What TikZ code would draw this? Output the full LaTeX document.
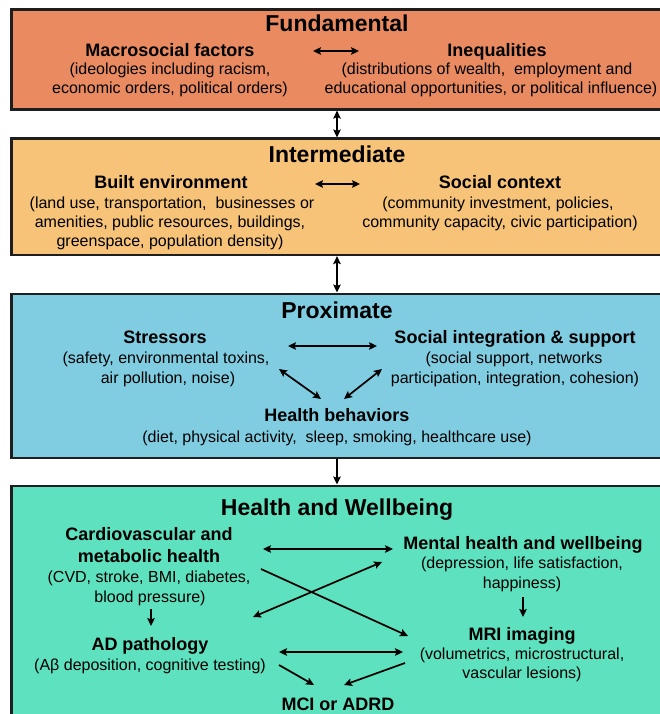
\documentclass[tikz,border=0pt]{standalone}
\usepackage{fontspec}
\setmainfont{Liberation Sans}
\usetikzlibrary{arrows.meta}
\definecolor{cfund}{RGB}{233,138,97}
\definecolor{cint}{RGB}{246,195,121}
\definecolor{cprox}{RGB}{128,205,226}
\definecolor{chealth}{RGB}{94,225,190}
\definecolor{cline}{RGB}{30,30,30}
\tikzset{
  box/.style={draw=cline, line width=2.6pt, rectangle, inner sep=0pt, anchor=north west},
  ttl/.style={anchor=base, inner sep=0pt, font=\fontsize{23}{27}\selectfont\bfseries},
  hd/.style={anchor=base, inner sep=0pt, font=\fontsize{18}{21}\selectfont\bfseries},
  ds/.style={anchor=base, inner sep=0pt, font=\fontsize{16}{19}\selectfont},
  arr/.style={draw=black, line width=1.7pt, -{Stealth[length=8pt,width=7.5pt,inset=1.5pt]}},
  arrb/.style={draw=black, line width=1.7pt, {Stealth[length=8pt,width=7.5pt,inset=1.5pt]}-{Stealth[length=8pt,width=7.5pt,inset=1.5pt]}},
}
\begin{document}
\begin{tikzpicture}[x=1pt,y=-1pt]
\useasboundingbox (0,0) rectangle (659,714);
\fill[white] (0,0) rectangle (659,714);
% boxes
\node[box, fill=cfund, minimum width=656pt, minimum height=100pt] (b1) at (10,8) {};
\node[box, fill=cint, minimum width=656pt, minimum height=116pt] (b2) at (10,137.5) {};
\node[box, fill=cprox, minimum width=656pt, minimum height=164pt] (b3) at (10,292.5) {};
\node[box, fill=chealth, minimum width=656pt, minimum height=240pt] (b4) at (10,484.5) {};
\coordinate (ax) at (337,0);
\draw[arrb] (b1.south -| ax) -- (b2.north -| ax);
\draw[arrb] (b2.south -| ax) -- (b3.north -| ax);
\draw[arr] (b3.south -| ax) -- (b4.north -| ax);

% Fundamental
\node[ttl] (t1) at (337,32) {Fundamental};
\node[hd] (macro) at (170,57) {Macrosocial factors};
\node[ds] (macro1) at (170,75) {(ideologies including racism,};
\node[ds] (macro2) at (170,94) {economic orders, political orders)};
\node[hd] (ineq) at (497,57) {Inequalities};
\node[ds] (ineq1) at (487,75) {(distributions of wealth,\ \ employment and};
\node[ds] (ineq2) at (491,94) {educational opportunities, or political influence)};
\coordinate (fa) at (313,51);
\coordinate (fb) at (359,51);
\draw[arrb, line width=1.5pt] (fa) -- (fb);

% Intermediate
\node[ttl] (t2) at (337,163) {Intermediate};
\node[hd] (built) at (171,188) {Built environment};
\node[ds] (built1) at (172,208) {(land use, transportation,\ \ businesses or};
\node[ds] (built2) at (170,227) {amenities, public resources, buildings,};
\node[ds] (built3) at (170,246) {greenspace, population density)};
\node[hd] (soc) at (500,188) {Social context};
\node[ds] (soc1) at (498,208) {(community investment, policies,};
\node[ds] (soc2) at (500,227) {community capacity, civic participation)};
\coordinate (ia) at (315,184);
\coordinate (ib) at (360,184);
\draw[arrb, line width=1.5pt] (ia) -- (ib);

% Proximate
\node[ttl] (t3) at (337,318) {Proximate};
\node[hd] (str) at (165,343) {Stressors};
\node[ds] (str1) at (166,363) {(safety, environmental toxins,};
\node[ds] (str2) at (168,383) {air pollution, noise)};
\node[hd] (sis) at (515,343) {Social integration \& support};
\node[ds] (sis1) at (514,363) {(social support, networks};
\node[ds] (sis2) at (515,383) {participation, integration, cohesion)};
\node[hd] (hb) at (337,421) {Health behaviors};
\node[ds] (hb1) at (337,442) {(diet, physical activity,\ \ sleep, smoking, healthcare use)};
\coordinate (pa) at (288,346);
\coordinate (pb) at (377,346);
\coordinate (pc) at (279,369);
\coordinate (pd) at (321,399);
\coordinate (pe) at (382,369);
\coordinate (pf) at (344,399);
\draw[arrb] (pa) -- (pb);
\draw[arrb] (pc) -- (pd);
\draw[arrb] (pe) -- (pf);

% Health and Wellbeing
\node[ttl] (t4) at (337,515) {Health and Wellbeing};
\node[hd] (cv) at (149,540) {Cardiovascular and};
\node[hd] (cv1) at (149,562) {metabolic health};
\node[ds] (cv2) at (149,582) {(CVD, stroke, BMI, diabetes,};
\node[ds] (cv3) at (150,602) {blood pressure)};
\node[hd] (ad) at (150,650) {AD pathology};
\node[ds] (ad1) at (150,670) {(Aβ deposition, cognitive testing)};
\node[hd] (mh) at (523,549) {Mental health and wellbeing};
\node[ds] (mh1) at (522,568) {(depression, life satisfaction,};
\node[ds] (mh2) at (522,588) {happiness)};
\node[hd] (mri) at (522,640) {MRI imaging};
\node[ds] (mri1) at (522,659) {(volumetrics, microstructural,};
\node[ds] (mri2) at (522,678) {vascular lesions)};
\node[hd] (mci) at (338,710) {MCI or ADRD};
\coordinate (ha) at (263,549);
\coordinate (hb2) at (393,549);
\coordinate (hc) at (261,569);
\coordinate (hd2) at (408,636);
\coordinate (he) at (253,617);
\coordinate (hf) at (382,562);
\coordinate (hg) at (151,609);
\coordinate (hh) at (151,626);
\coordinate (hi) at (523,597);
\coordinate (hj) at (523,617);
\coordinate (hk) at (279,652);
\coordinate (hl) at (403,652);
\coordinate (hm) at (279,665);
\coordinate (hn) at (314,685);
\coordinate (ho) at (405,663);
\coordinate (hp) at (344,685);
\draw[arrb] (ha) -- (hb2);
\draw[arr] (hc) -- (hd2);
\draw[arrb] (he) -- (hf);
\draw[arr, line width=1.5pt] (hg) -- (hh);
\draw[arr, line width=1.5pt] (hi) -- (hj);
\draw[arrb] (hk) -- (hl);
\draw[arr] (hm) -- (hn);
\draw[arr] (ho) -- (hp);
\end{tikzpicture}
\end{document}
